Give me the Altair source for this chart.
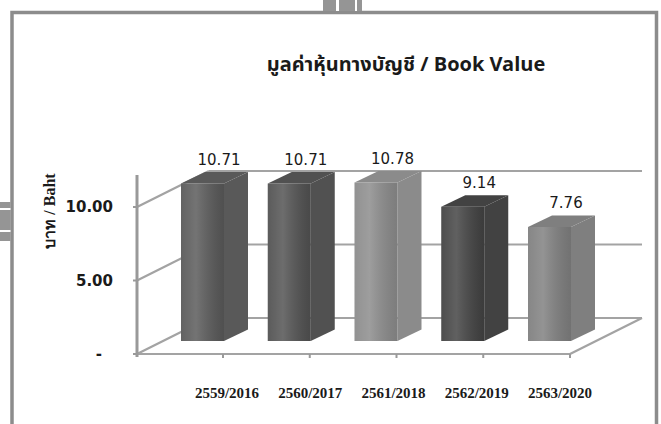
import altair as alt
import pandas as pd

# ---- data ----
categories = ["2559/2016", "2560/2017", "2561/2018", "2562/2019", "2563/2020"]
book_values = [10.71, 10.71, 10.78, 9.14, 7.76]
value_labels = ["10.71", "10.71", "10.78", "9.14", "7.76"]
y_tick_values = [0, 5, 10]
y_tick_labels = ["-", "5.00", "10.00"]
title_text = "มูลค่าหุ้นทางบัญชี / Book Value"
y_title_text = "บาท / Baht"

front_colors = ["#7a7a7a", "#707070", "#aaaaaa", "#595959", "#a5a5a5"]
side_colors = ["#595959", "#515151", "#8b8b8b", "#424242", "#7f7f7f"]
top_colors = ["#6e6e6e", "#656565", "#9b9b9b", "#4f4f4f", "#949494"]

# ---- layout (pixel geometry of the pseudo-3D frame) ----
W, H = 661, 424
PXU, PXV = 86.75, 14.7      # px per category step / per value unit
X0, Y0 = 223, 354           # first category tick, front floor line


def u(px):
    return (px - X0) / PXU


def v(py):
    return (Y0 - py) / PXV


xs = alt.Scale(domain=[u(0), u(W)], nice=False, zero=False)
ys = alt.Scale(domain=[v(H), v(0)], nice=False, zero=False)


def X(f):
    return alt.X(f, type="quantitative", scale=xs, axis=None)


def Y(f):
    return alt.Y(f, type="quantitative", scale=ys, axis=None)


U_LEFT, U_RIGHT = u(137), u(570)
FDX, FDY = 72 / PXU, 36 / PXV          # floor depth
BL, BR = -42 / PXU, 1 / PXU            # bar front face edges rel. to tick
SDX, SDY = 24 / PXU, 11.5 / PXV        # bar depth
VB = 13 / PXV                          # bar front bottom above front floor line

n = len(categories)

front = pd.DataFrame({
    "cat": categories,
    "l": [i + BL for i in range(n)],
    "r": [i + BR for i in range(n)],
    "y0": [VB] * n,
    "y1": [VB + b for b in book_values],
})

side_rows, top_rows = [], []
for i, (c, b) in enumerate(zip(categories, book_values)):
    side_rows.append({"cat": c, "x": i + BR, "lo": VB, "hi": VB + b})
    side_rows.append({"cat": c, "x": i + BR + SDX, "lo": VB + SDY, "hi": VB + b + SDY})
    top_rows.append({"cat": c, "y": VB + b, "xl": i + BL, "xr": i + BR})
    top_rows.append({"cat": c, "y": VB + b + SDY, "xl": i + BL + SDX, "xr": i + BR + SDX})
side = pd.DataFrame(side_rows)
top = pd.DataFrame(top_rows)

# grid / wall lines
grid_rows = []
for t in y_tick_values:
    grid_rows.append({"x1": U_LEFT, "y1": t, "x2": U_LEFT + FDX, "y2": t + FDY})
    grid_rows.append({"x1": U_LEFT + FDX, "y1": t + FDY, "x2": U_RIGHT + FDX, "y2": t + FDY})
grid_rows.append({"x1": U_LEFT, "y1": 0, "x2": U_RIGHT, "y2": 0})
grid_rows.append({"x1": U_RIGHT, "y1": 0, "x2": U_RIGHT + FDX, "y2": FDY})
grid = pd.DataFrame(grid_rows)

axis_line = pd.DataFrame({"x1": [U_LEFT], "y1": [v(357)], "y2": [v(175)]})
ytick_marks = pd.DataFrame({"x1": [U_LEFT] * 3, "x2": [U_LEFT - 4 / PXU] * 3, "y": y_tick_values})
xtick_marks = pd.DataFrame({"x": list(range(n)), "y1": [0] * n, "y2": [-4 / PXV] * n})

ylab = pd.DataFrame({"x": [U_LEFT] * 3, "y": y_tick_values, "t": y_tick_labels})
vlab = pd.DataFrame({"x": [i - 4 / PXU for i in range(n)],
                     "y": [VB + b + SDY for b in book_values], "t": value_labels})
clab = pd.DataFrame({"x": [u(227 + 83.25 * i) for i in range(n)], "t": categories})

one = pd.DataFrame({"a": [0]})
GRID_C = "#a3a3a3"

layers = []

# frame and decorative tabs
layers.append(alt.Chart(one).mark_rect(fill="white", stroke="#8c8c8c", strokeWidth=3.5).encode(
    x=alt.value(12), x2=alt.value(656.5), y=alt.value(12.5), y2=alt.value(460)))
layers.append(alt.Chart(one).mark_rect(fill="#959595").encode(
    x=alt.value(323), x2=alt.value(362), y=alt.value(0), y2=alt.value(11)))
for xa, xb in [(336, 339), (355, 357)]:
    layers.append(alt.Chart(one).mark_rect(fill="white").encode(
        x=alt.value(xa), x2=alt.value(xb), y=alt.value(0), y2=alt.value(11)))
layers.append(alt.Chart(one).mark_rect(fill="#959595").encode(
    x=alt.value(0), x2=alt.value(10.5), y=alt.value(202), y2=alt.value(241)))
for ya, yb in [(208, 210), (230, 232)]:
    layers.append(alt.Chart(one).mark_rect(fill="white").encode(
        x=alt.value(0), x2=alt.value(10.5), y=alt.value(ya), y2=alt.value(yb)))

# walls, floor
layers.append(alt.Chart(grid).mark_rule(color=GRID_C, strokeWidth=2.2).encode(
    x=X("x1"), y=Y("y1"), x2="x2", y2="y2"))
layers.append(alt.Chart(axis_line).mark_rule(color="#999999", strokeWidth=3).encode(
    x=X("x1"), y=Y("y1"), y2="y2"))
layers.append(alt.Chart(ytick_marks).mark_rule(color="#999999", strokeWidth=2).encode(
    x=X("x1"), x2="x2", y=Y("y")))
layers.append(alt.Chart(xtick_marks).mark_rule(color="#999999", strokeWidth=2).encode(
    x=X("x"), y=Y("y1"), y2="y2"))

# bars
layers.append(alt.Chart(side).mark_area(orient="vertical").encode(
    x=X("x"), y=Y("hi"), y2="lo",
    color=alt.Color("cat:N", scale=alt.Scale(domain=categories, range=side_colors), legend=None)))
layers.append(alt.Chart(top).mark_area(orient="horizontal").encode(
    y=Y("y"), x=X("xl"), x2="xr",
    color=alt.Color("cat:N", scale=alt.Scale(domain=categories, range=top_colors), legend=None)))
layers.append(alt.Chart(front).mark_rect().encode(
    x=X("l"), x2="r", y=Y("y0"), y2="y1",
    color=alt.Color("cat:N", scale=alt.Scale(domain=categories, range=front_colors), legend=None)))
layers.append(alt.Chart(front).mark_rect(fill=alt.Gradient(
    gradient="linear", x1=0, y1=0, x2=1, y2=0,
    stops=[alt.GradientStop(color="rgba(255,255,255,0.06)", offset=0),
           alt.GradientStop(color="rgba(255,255,255,0.16)", offset=0.35),
           alt.GradientStop(color="rgba(0,0,0,0.10)", offset=1)])).encode(
    x=X("l"), x2="r", y=Y("y0"), y2="y1"))

# texts
layers.append(alt.Chart(vlab).mark_text(font="DejaVu Sans", fontSize=15, color="#1a1a1a",
                                         baseline="bottom", dy=-4).encode(
    x=X("x"), y=Y("y"), text="t:N"))
layers.append(alt.Chart(ylab[ylab.t != "-"]).mark_text(font="DejaVu Sans", fontSize=15, fontWeight="bold",
                                                      color="#1a1a1a", align="right", baseline="middle", dx=-24).encode(
    x=X("x"), y=Y("y"), text="t:N"))
layers.append(alt.Chart(ylab[ylab.t == "-"]).mark_text(font="DejaVu Sans", fontSize=15, fontWeight="bold",
                                                      color="#1a1a1a", align="right", baseline="middle", dx=-35).encode(
    x=X("x"), y=Y("y"), text="t:N"))
layers.append(alt.Chart(clab).mark_text(font="Liberation Serif", fontSize=15, fontWeight="bold",
                                         color="#1a1a1a", baseline="middle").encode(
    x=X("x"), y=alt.value(393), text="t:N"))
layers.append(alt.Chart(one).mark_text(font="Liberation Serif", fontSize=16, fontWeight="bold",
                                        color="#1a1a1a", angle=270, baseline="middle").encode(
    x=alt.value(50), y=alt.value(211), text=alt.value(y_title_text)))
layers.append(alt.Chart(one).mark_text(font="Noto Sans Thai, Noto Sans, sans-serif", fontSize=20,
                                        fontWeight="bold", color="#1a1a1a", baseline="middle").encode(
    x=alt.value(406), y=alt.value(65), text=alt.value(title_text)))

chart = alt.layer(*layers).properties(
    width=W, height=H, autosize=alt.AutoSizeParams(type="none"), padding=0,
    background="white",
).configure_view(stroke=None)

chart.save("out.html", embed_options={"renderer": "svg", "actions": False})
